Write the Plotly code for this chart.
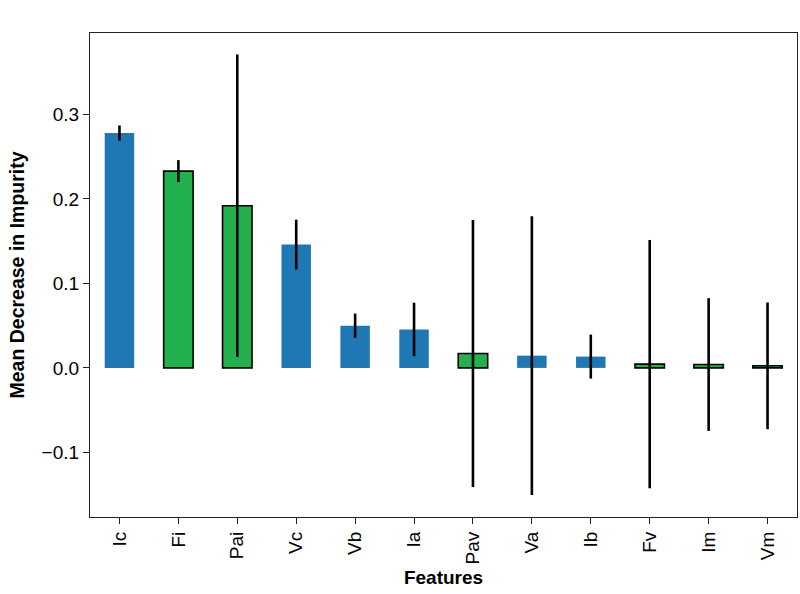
import plotly.graph_objects as go

features = ["Ic", "Fi", "Pai", "Vc", "Vb", "Ia", "Pav", "Va", "Ib", "Fv", "Im", "Vm"]
importance = [0.278, 0.233, 0.192, 0.146, 0.050, 0.0455, 0.017, 0.0145, 0.0134, 0.0045, 0.004, 0.0025]
std_err = [0.009, 0.013, 0.179, 0.0295, 0.0143, 0.0317, 0.158, 0.165, 0.026, 0.147, 0.0786, 0.075]
group = ["b", "g", "g", "b", "b", "b", "g", "b", "b", "g", "g", "g"]

BLUE = "#1f77b4"
GREEN = "#22b14c"
colors = [GREEN if g == "g" else BLUE for g in group]
line_w = [1.6 if g == "g" else 0 for g in group]

fig = go.Figure()
fig.add_trace(go.Bar(
    x=list(range(len(features))),
    y=importance,
    width=0.5,
    marker=dict(color=colors, line=dict(color="black", width=line_w)),
    error_y=dict(type="data", array=std_err, visible=True, color="black",
                 thickness=2.6, width=0),
))

FAM = "Liberation Sans, Arial, sans-serif"
axis_font = dict(family=FAM, size=19, color="black")
fig.update_layout(
    width=800, height=594,
    margin=dict(l=90, r=3, t=33, b=77, autoexpand=False),
    plot_bgcolor="white", paper_bgcolor="white",
    showlegend=False,
    bargap=0.5,
)
fig.update_xaxes(
    range=[-0.5, 11.5], automargin=False,
    tickmode="array", tickvals=list(range(len(features))), ticktext=features,
    tickangle=-90, ticks="outside", ticklen=6, tickwidth=1.2, tickcolor="#222",
    showline=True, linecolor="#222", linewidth=1.2, mirror=True,
    showgrid=False, zeroline=False,
    tickfont=axis_font,
    title=dict(text="<b>Features</b>", font=dict(family=FAM, size=19, color="black"), standoff=7),
)
fig.update_yaxes(
    range=[-0.1765, 0.3965], automargin=False,
    tickmode="array", tickvals=[-0.1, 0.0, 0.1, 0.2, 0.3],
    ticktext=["\u22120.1", "0.0", "0.1", "0.2", "0.3"],
    ticks="outside", ticklen=6, tickwidth=1.2, tickcolor="#222",
    showline=True, linecolor="#222", linewidth=1.2, mirror=True,
    showgrid=False, zeroline=False,
    tickfont=axis_font,
    title=dict(text="<b>Mean Decrease in Impurity</b>", font=dict(family=FAM, size=19.5, color="black"), standoff=11),
)

fig.write_html("out.html", config={"displayModeBar": False},
               post_script="document.body.style.margin='0';document.body.style.overflow='hidden';")
